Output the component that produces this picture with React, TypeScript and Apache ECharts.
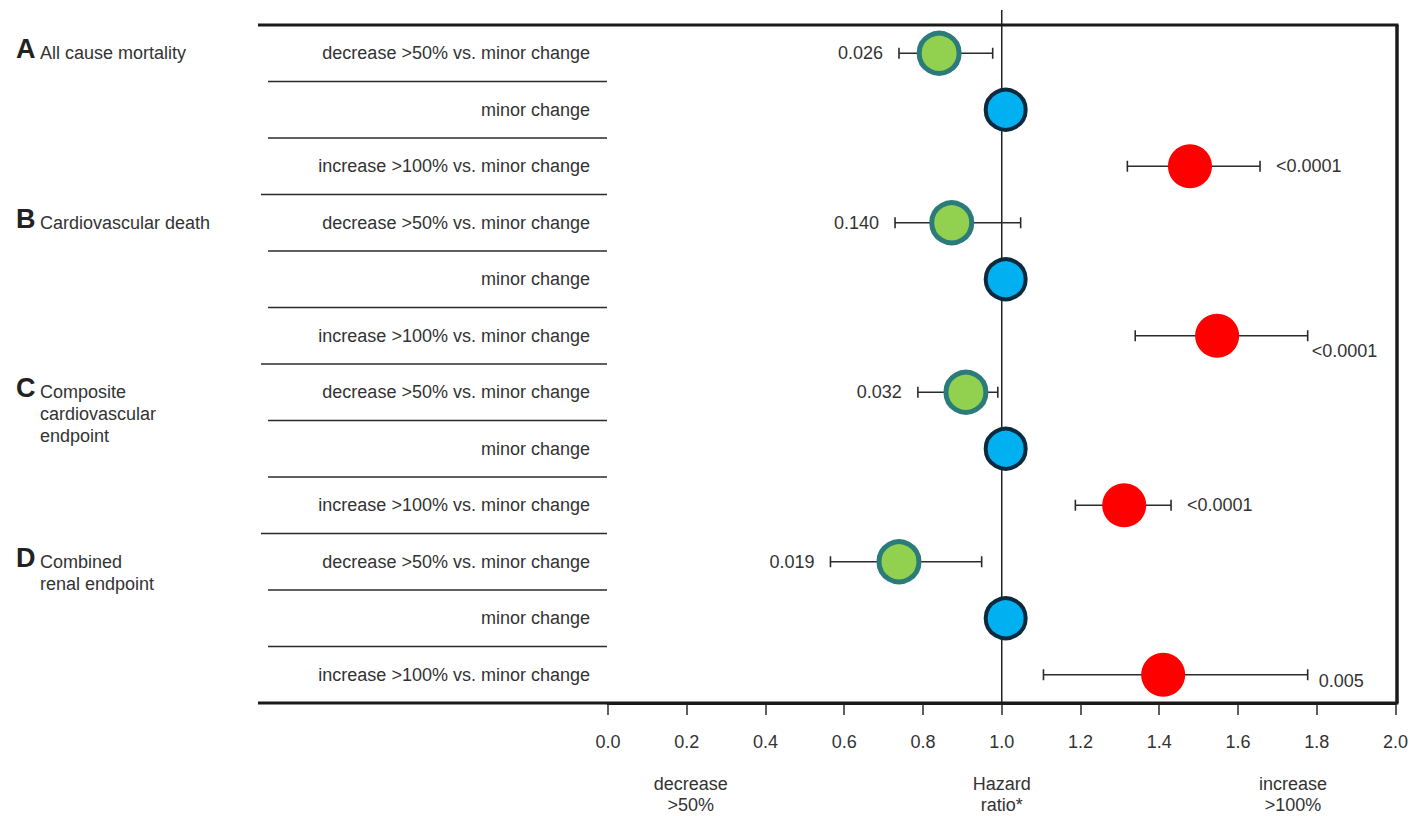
import React, { useEffect, useRef } from "react";
import * as echarts from "echarts";

// ---------- data ----------
const sectionLetters = ["A", "B", "C", "D"];
const sectionTitles = [
  "All cause mortality",
  "Cardiovascular death",
  "Composite\ncardiovascular\nendpoint",
  "Combined\nrenal endpoint",
];
const comparisonLabels = [
  "decrease >50% vs. minor change",
  "minor change",
  "increase >100% vs. minor change",
];

const decreaseHR = [0.841, 0.873, 0.909, 0.739];
const decreaseLo = [0.739, 0.729, 0.787, 0.565];
const decreaseHi = [0.977, 1.048, 0.99, 0.949];
const decreaseP = ["0.026", "0.140", "0.032", "0.019"];

const minorHR = [1.01, 1.01, 1.01, 1.01];

const increaseHR = [1.478, 1.547, 1.311, 1.41];
const increaseLo = [1.319, 1.339, 1.187, 1.106];
const increaseHi = [1.656, 1.777, 1.43, 1.777];
const increaseP = ["<0.0001", "<0.0001", "<0.0001", "0.005"];

const referenceHR = 1.0;
const bottomNotes = [
  { text: "decrease\n>50%", at: 0.21 },
  { text: "Hazard\nratio*", at: 1.0 },
  { text: "increase\n>100%", at: 1.74 },
];

// label placement for the p-values of the increase rows (layout only)
const increasePPlacement = [
  { dx: 16, dy: 0 },
  { dx: 4, dy: 15 },
  { dx: 16, dy: 0 },
  { dx: 11, dy: 6 },
];

// ---------- layout / style ----------
const W = 1411;
const H = 816;
const GRID_LEFT = 608;
const GRID_RIGHT = 14;
const GRID_TOP = 25;
const GRID_BOTTOM = 113;
const FRAME_LEFT = 258;
const FONT = "'Liberation Sans', Arial, Helvetica, sans-serif";
const TEXT = "#333333";
const LINE = "#2b2b2b";

const rowLabels = sectionLetters.flatMap(() => comparisonLabels);
const rowKeys = rowLabels.map((_, i) => String(i));

export default function App() {
  const ref = useRef<HTMLDivElement>(null);

  useEffect(() => {
    document.body.style.margin = "0";
    const el = ref.current!;
    const chart = echarts.init(el, null, { renderer: "svg" });

    const ciData: any[] = [];
    const ciInfo: any[] = [];
    sectionLetters.forEach((_, s) => {
      ciData.push([decreaseLo[s], decreaseHi[s], s * 3]);
      ciInfo.push({ p: decreaseP[s], side: "left", dx: 16, dy: 0 });
      ciData.push([increaseLo[s], increaseHi[s], s * 3 + 2]);
      ciInfo.push({
        p: increaseP[s],
        side: "right",
        dx: increasePPlacement[s].dx,
        dy: increasePPlacement[s].dy,
      });
    });

    const option: any = {
      animation: false,
      backgroundColor: "#ffffff",
      grid: {
        left: GRID_LEFT,
        right: GRID_RIGHT,
        top: GRID_TOP,
        bottom: GRID_BOTTOM,
        containLabel: false,
      },
      xAxis: {
        type: "value",
        min: 0,
        max: 2,
        interval: 0.2,
        axisLine: { show: true, lineStyle: { color: "#1a1a1a", width: 3 } },
        axisTick: {
          show: true,
          length: 12,
          lineStyle: { color: LINE, width: 1.5 },
        },
        axisLabel: {
          margin: 30,
          fontSize: 18,
          fontFamily: FONT,
          color: TEXT,
          formatter: (v: number) => v.toFixed(1),
        },
        splitLine: { show: false },
      },
      yAxis: {
        type: "category",
        data: rowKeys,
        inverse: true,
        axisLine: { show: false },
        axisTick: { show: false },
        splitLine: { show: false },
        axisLabel: {
          margin: 18,
          fontSize: 18,
          fontFamily: FONT,
          color: TEXT,
          formatter: (v: string) => rowLabels[Number(v)],
        },
      },
      series: [
        {
          type: "custom",
          name: "CI",
          z: 2,
          encode: { x: [0, 1], y: 2 },
          data: ciData,
          renderItem: (params: any, api: any) => {
            const lo = api.value(0);
            const hi = api.value(1);
            const row = api.value(2);
            const a = api.coord([lo, row]);
            const b = api.coord([hi, row]);
            const y = a[1];
            const cap = 5.5;
            const info = ciInfo[params.dataIndex];
            const ls = { stroke: LINE, lineWidth: 1.6 };
            const textEl =
              info.side === "left"
                ? {
                    type: "text",
                    style: {
                      text: info.p,
                      x: a[0] - info.dx,
                      y: y + info.dy,
                      align: "right",
                      verticalAlign: "middle",
                      fill: TEXT,
                      fontSize: 18,
                      fontFamily: FONT,
                    },
                  }
                : {
                    type: "text",
                    style: {
                      text: info.p,
                      x: b[0] + info.dx,
                      y: y + info.dy,
                      align: "left",
                      verticalAlign: "middle",
                      fill: TEXT,
                      fontSize: 18,
                      fontFamily: FONT,
                    },
                  };
            return {
              type: "group",
              children: [
                { type: "line", shape: { x1: a[0], y1: y, x2: b[0], y2: y }, style: ls },
                { type: "line", shape: { x1: a[0], y1: y - cap, x2: a[0], y2: y + cap }, style: ls },
                { type: "line", shape: { x1: b[0], y1: y - cap, x2: b[0], y2: y + cap }, style: ls },
                textEl,
              ],
            };
          },
        },
        {
          type: "scatter",
          name: "decrease >50%",
          z: 5,
          symbol: "circle",
          symbolSize: 40,
          itemStyle: { color: "#92d050", borderColor: "#2a7b79", borderWidth: 5, opacity: 1 },
          data: decreaseHR.map((v, s) => [v, s * 3]),
        },
        {
          type: "scatter",
          name: "minor change",
          z: 5,
          symbol: "circle",
          symbolSize: 40,
          itemStyle: { color: "#00b0f0", borderColor: "#0b2a3e", borderWidth: 4, opacity: 1 },
          data: minorHR.map((v, s) => [v, s * 3 + 1]),
        },
        {
          type: "scatter",
          name: "increase >100%",
          z: 5,
          symbol: "circle",
          symbolSize: 44,
          itemStyle: { color: "#ff0000", opacity: 1 },
          data: increaseHR.map((v, s) => [v, s * 3 + 2]),
        },
      ],
    };

    chart.setOption(option);

    // ---- decorations positioned through the chart's own scales ----
    const px = (v: number) => chart.convertToPixel({ xAxisIndex: 0 } as any, v) as number;
    const py = (i: number) => chart.convertToPixel({ yAxisIndex: 0 } as any, i) as number;
    const gridRightX = W - GRID_RIGHT;
    const topY = GRID_TOP;
    const botY = H - GRID_BOTTOM;
    const g: any[] = [];
    const frameStyle = { stroke: "#1a1a1a", lineWidth: 3 };
    g.push({ type: "line", z: 10, shape: { x1: FRAME_LEFT, y1: topY, x2: gridRightX + 1.5, y2: topY }, style: frameStyle });
    g.push({ type: "line", z: 10, shape: { x1: gridRightX, y1: topY, x2: gridRightX, y2: botY }, style: { stroke: "#1a1a1a", lineWidth: 3.5 } });
    g.push({ type: "line", z: 10, shape: { x1: FRAME_LEFT, y1: botY, x2: gridRightX + 1.5, y2: botY }, style: frameStyle });

    // row separators
    for (let i = 1; i < rowLabels.length; i++) {
      const y = (py(i - 1) + py(i)) / 2;
      const x1 = i % 3 === 0 ? FRAME_LEFT + 3 : 268;
      g.push({ type: "line", z: 1, shape: { x1, y1: y, x2: GRID_LEFT - 1, y2: y }, style: { stroke: LINE, lineWidth: 1.5 } });
    }

    // reference line at HR = 1
    const rx = px(referenceHR);
    g.push({ type: "line", z: 1, shape: { x1: rx, y1: 10, x2: rx, y2: botY }, style: { stroke: "#222", lineWidth: 1.5 } });

    // section titles
    sectionLetters.forEach((letter, s) => {
      const y0 = py(s * 3);
      g.push({
        type: "text",
        z: 10,
        style: {
          text: letter,
          x: 16,
          y: y0 - 4,
          align: "left",
          verticalAlign: "middle",
          fill: "#222",
          fontSize: 27,
          fontWeight: "bold",
          fontFamily: FONT,
        },
      });
      g.push({
        type: "text",
        z: 10,
        style: {
          text: sectionTitles[s],
          x: 40,
          y: y0 - 11,
          align: "left",
          verticalAlign: "top",
          lineHeight: 22,
          fill: TEXT,
          fontSize: 18,
          fontFamily: FONT,
        },
      });
    });

    // bottom notes
    bottomNotes.forEach((n) => {
      g.push({
        type: "text",
        z: 10,
        style: {
          text: n.text,
          x: px(n.at),
          y: 773,
          align: "center",
          verticalAlign: "top",
          lineHeight: 21,
          fill: TEXT,
          fontSize: 18,
          fontFamily: FONT,
        },
      });
    });

    chart.setOption({ graphic: g });

    return () => {
      chart.dispose();
    };
  }, []);

  return <div ref={ref} style={{ width: W, height: H }} />;
}
